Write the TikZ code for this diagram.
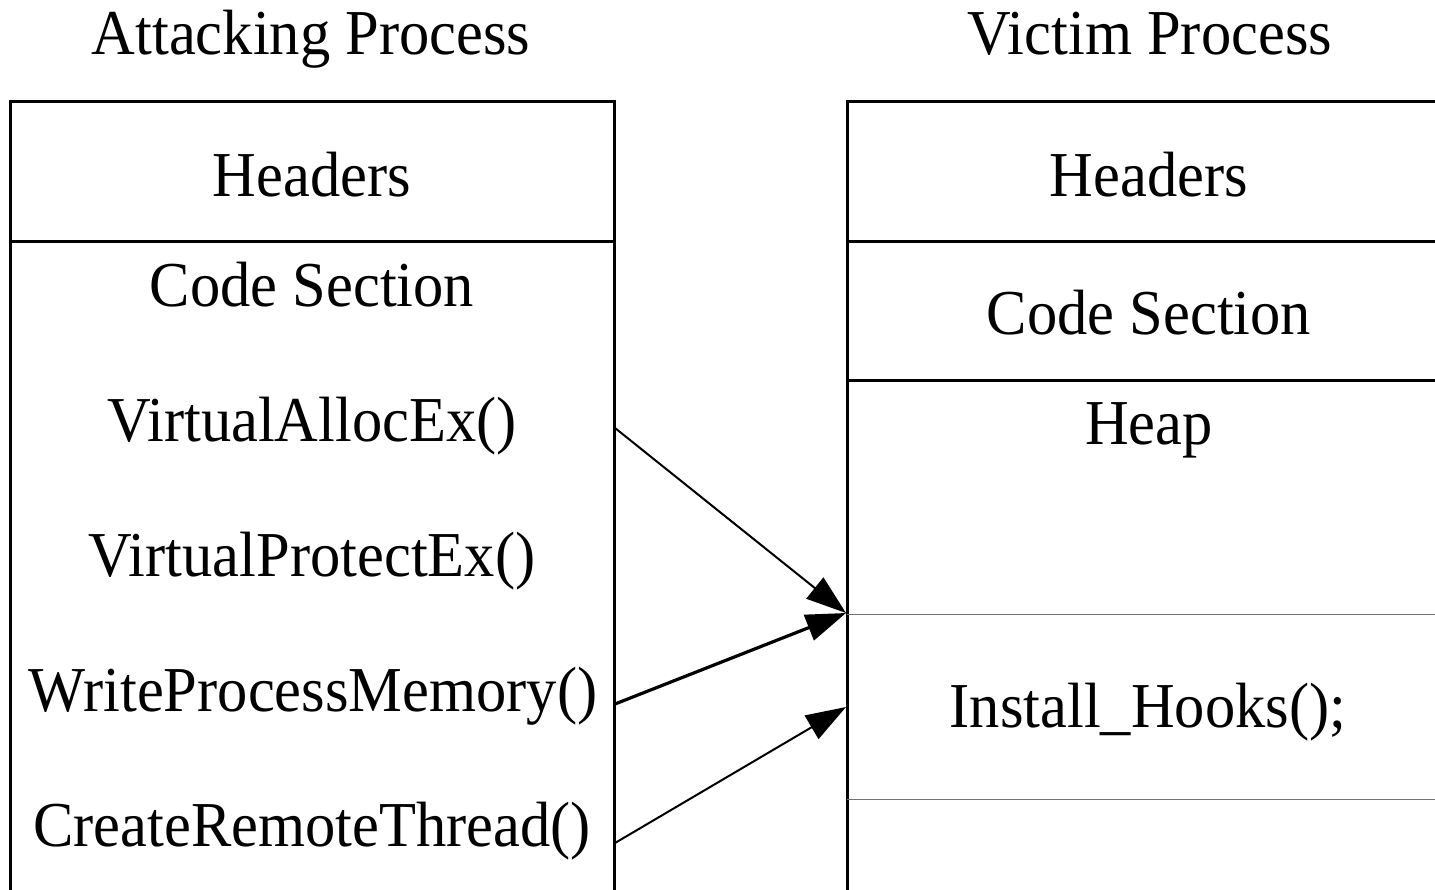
\documentclass[tikz,border=0pt]{standalone}
\usepackage{fontspec}
\setmainfont{Liberation Serif}
\usetikzlibrary{arrows.meta}
% labels are set in a slightly condensed serif
\newcommand\narrowtext[1]{\scalebox{0.945}[1]{#1}}
\begin{document}
\begin{tikzpicture}[x=0.5pt,y=-0.5pt,
  lbl/.style={inner sep=0pt,anchor=base,font=\fontsize{32}{38}\selectfont},
  wall/.style={line width=1.5pt,line cap=rect},
  thinrule/.style={line width=0.5pt,draw=black!55},
  call/.style={line width=1pt,-{Triangle[length=20pt,width=13.5pt]}},
  callbold/.style={line width=1.6pt,-{Triangle[length=20pt,width=13.5pt]}}]
\useasboundingbox (0,0) rectangle (1435,889);

% Attacking process frame
\draw[wall] (10,889) -- (10,101) -- (614,101) -- (614,889);
\draw[wall] (10,241) -- (614,241);

% Victim process frame
\draw[wall] (1435,101) -- (847,101) -- (847,889);
\draw[wall] (847,241) -- (1435,241);
\draw[wall] (847,380) -- (1435,380);
\draw[thinrule] (847,614) -- (1435,614);
\draw[thinrule] (847,799) -- (1435,799);

% Titles
\node[lbl] (atitle) at (311,54) {\narrowtext{Attacking Process}};
\node[lbl] (vtitle) at (1150,54) {\narrowtext{Victim Process}};

% Attacking process contents
\node[lbl] (ahead) at (312,196) {\narrowtext{Headers}};
\node[lbl] (acode) at (312,306) {\narrowtext{Code Section}};
\node[lbl] (valloc) at (312,441) {\narrowtext{VirtualAllocEx()}};
\node[lbl] (vprot) at (312,576) {\narrowtext{VirtualProtectEx()}};
\node[lbl] (wpm) at (313,711) {\narrowtext{WriteProcessMemory()}};
\node[lbl] (crt) at (312,846) {\narrowtext{CreateRemoteThread()}};

% Victim process contents
\node[lbl] (vhead) at (1149,196) {\narrowtext{Headers}};
\node[lbl] (vcode) at (1149,334) {\narrowtext{Code Section}};
\node[lbl] (heap) at (1149,444) {\narrowtext{Heap}};
\node[lbl] (hooks) at (1148,727) {\narrowtext{Install\_Hooks();}};

% Connector end points on the frame walls
\coordinate (s1) at (615,428);
\coordinate (s2) at (615,704);
\coordinate (s3) at (615,843);
\coordinate (t1) at (846,613);
\coordinate (t3) at (846,707);

\draw[call] (s1) -- (t1);
\draw[callbold] (s2) -- (t1);
\draw[call] (s3) -- (t3);
\end{tikzpicture}
\end{document}
